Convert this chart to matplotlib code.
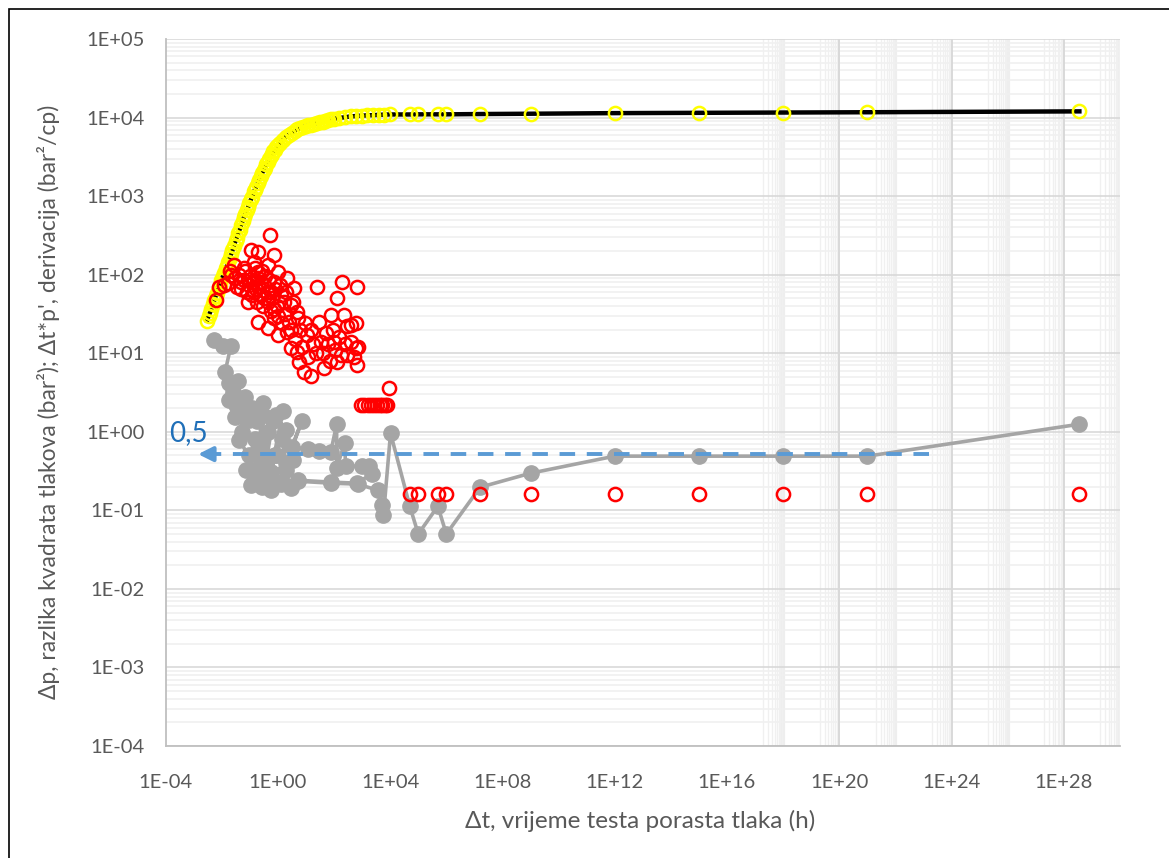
import numpy as np
import matplotlib.pyplot as plt
from matplotlib.ticker import FuncFormatter, LogLocator, NullLocator
from matplotlib.patches import Rectangle

# --- DATA ---
# pressure difference dp (bar^2) vs shut-in time dt (h)
dp_t = [0.0030, 0.0034, 0.0038, 0.0043, 0.0048, 0.0054, 0.0061, 0.0068, 0.0077, 0.0086,
        0.0097, 0.011, 0.012, 0.014, 0.015, 0.017, 0.019, 0.022, 0.024, 0.027,
        0.031, 0.034, 0.039, 0.043, 0.049, 0.055, 0.061, 0.069, 0.077, 0.087,
        0.097, 0.11, 0.12, 0.14, 0.15, 0.17, 0.19, 0.22, 0.24, 0.27,
        0.31, 0.34, 0.39, 0.43, 0.49, 0.55, 0.61, 0.69, 0.77, 0.87,
        0.97, 1.2, 1.5, 1.9, 2.4, 3.1, 3.9, 4.9, 6.1, 7.7,
        9.7, 12, 15, 19, 24, 31, 39, 49, 61, 77,
        97, 150, 240, 390, 610, 970, 1500, 2400, 3900, 6100,
        9700, 5e4, 1e5, 5e5, 1e6, 1.6e7, 1e9, 1e12, 1e15, 1e18,
        1e21, 3.6e28]
dp_val = [26, 30, 33, 37, 42, 47, 54, 59, 68, 74,
          85, 96, 105, 120, 129, 145, 162, 186, 204, 234,
          269, 295, 339, 372, 427, 479, 537, 589, 661, 724,
          813, 912, 977, 1150, 1200, 1320, 1450, 1620, 1780, 1950,
          2140, 2290, 2540, 2690, 2990, 3240, 3470, 3720, 3890, 4170,
          4420, 4790, 5250, 5620, 6030, 6460, 6760, 7080, 7330, 7590,
          7760, 7940, 8130, 8320, 8510, 8710, 8910, 9120, 9330, 9550,
          9660, 9890, 10100, 10350, 10470, 10590, 10670, 10740, 10840, 10910,
          10960, 10960, 11000, 11000, 11000, 11100, 11200, 11400, 11500, 11600,
          11700, 12000]

# derivative dt*p' (red open circles)
der_t = [6.2e-3, 8.1e-3, 1.2e-2, 1.6e-2, 2.1e-2, 2.7e-2, 4.8e-2, 6.1e-2, 8.3e-2, 0.109,
         0.139, 0.139, 0.188, 0.188, 0.188, 0.246, 0.315, 0.427, 0.427, 0.528,
         0.56, 0.715, 0.715, 0.715, 0.97, 0.97, 1.27, 2.19, 2.19, 2.87,
         2.87, 3.67, 4.97, 4.97, 5.5, 8.3, 11.2, 14.7, 25.5, 33.4,
         43.8, 75.7, 99, 124, 131, 197, 219, 297, 389, 585,
         673, 673,
         0.02, 0.03, 0.035, 0.04, 0.05, 0.06, 0.07, 0.08, 0.09, 0.1,
         0.12, 0.13, 0.15, 0.16, 0.18, 0.2, 0.22, 0.25, 0.28, 0.3,
         0.33, 0.36, 0.4, 0.45, 0.5, 0.55, 0.6, 0.7, 0.8, 0.9,
         1.0, 1.2, 1.4, 1.6, 1.8, 2.0, 2.5, 3.0, 3.5, 4.0,
         5.0, 6.0, 7.0, 9.0, 12, 15, 18, 22, 30, 40,
         50, 60, 70, 90, 110, 150, 180, 250, 300, 400,
         500, 600, 700,
         900, 1200, 1600, 2000, 2600, 3300, 4200, 5200, 6500, 8000,
         8900, 5e4, 1e5, 5e5, 1e6, 1.6e7, 1e9, 1e12, 1e15, 1e18,
         1e21, 3.6e28]
der_val = [47, 70, 73, 78, 98, 132, 81, 121, 45, 204,
           60, 145, 194, 108, 25, 81, 51, 132, 20.8, 317,
           60, 177, 81, 37, 108, 17, 55, 90, 18.7, 41,
           11.5, 67, 33.5, 10.4, 7.7, 5.8, 17, 5.2, 70, 13.9,
           6.4, 30.4, 13.9, 51, 7.7, 81, 30.4, 9.4, 22.7, 11.5,
           70, 7.0,
           110, 90, 70, 100, 65, 85, 110, 60, 75, 95,
           55, 80, 120, 65, 45, 90, 70, 55, 110, 40,
           75, 95, 60, 45, 85, 35, 50, 28, 65, 40,
           30, 75, 24, 45, 32, 60, 25, 20, 45, 15,
           28, 20, 12, 24, 9, 20, 13, 10, 25, 10,
           18, 13, 8, 20, 11, 16, 9.5, 13, 22, 14,
           9, 24, 12,
           2.18, 2.18, 2.2, 2.2, 2.2, 2.2, 2.2, 2.2, 2.2, 2.2,
           3.56, 0.16, 0.16, 0.16, 0.16, 0.16, 0.16, 0.16, 0.16, 0.16,
           0.16, 0.16]

# grey series (filled circles joined by line)
gr_t = [5.3e-3, 1.1e-2, 2.1e-2, 1.3e-2, 1.8e-2, 2.5e-2, 3.8e-2, 2.9e-2, 4.5e-2, 6.7e-2,
        0.118, 5.2e-2, 0.09, 0.178, 0.291, 0.21, 0.15, 0.438, 0.128, 0.25,
        0.316, 0.66, 0.268, 0.4,
        0.018, 0.032, 0.072, 0.041, 0.092, 0.164, 0.37, 0.84, 1.91, 2.87,
        0.072, 0.56, 0.109, 3.38, 1.91, 0.84, 0.291,
        1.49, 0.56, 0.8, 1.38, 2.0, 7.1,
        3.12, 11.5, 30, 76, 124, 124, 238, 258, 955, 1690,
        2170, 635, 76, 5.1, 1.27, 0.151, 1.27, 5.1, 76, 689,
        3540, 4910, 5780, 1.03e4, 5e4, 1e5, 5e5, 1e6, 1.6e7, 1e9,
        1e12, 1e15, 1e18, 1e21, 3.6e28]
gr_val = [14.6, 12.3, 12.3, 5.7, 4.2, 3.2, 4.4, 1.53, 2.2, 2.75,
          2.0, 0.99, 1.4, 1.36, 2.31, 0.64, 0.8, 0.99, 0.325, 0.45,
          0.49, 1.36, 0.197, 0.3,
          2.52, 2.18, 1.62, 0.78, 0.50, 0.78, 0.376, 0.50, 0.325, 0.191,
          0.325, 0.181, 0.21, 0.435, 1.05, 1.62, 1.62,
          1.83, 0.306, 0.5, 0.80, 0.4, 1.36,
          0.64, 0.60, 0.57, 0.55, 1.25, 0.344, 0.72, 0.365, 0.365, 0.365,
          0.289, 0.222, 0.229, 0.242, 0.229, 0.257, 0.216, 0.235, 0.222, 0.216,
          0.181, 0.116, 0.087, 0.96, 0.113, 0.050, 0.113, 0.050, 0.197, 0.297,
          0.49, 0.49, 0.49, 0.49, 1.25]

# dashed reference level with arrow
ref_level = 0.52
ref_t = [1.43e-3, 1.6e23]
ref_label = "0,5"

x_ticks = [1e-4, 1e0, 1e4, 1e8, 1e12, 1e16, 1e20, 1e24, 1e28]

TXT = "#595959"
FONT = ["Lato", "DejaVu Sans"]
plt.rcParams["font.family"] = FONT

fig = plt.figure(figsize=(11.69, 8.58), dpi=100)
ax = fig.add_axes([0.1417, 0.1305, 0.8163, 0.824])
ax.set_xscale("log")
ax.set_yscale("log")
ax.set_xlim(1e-4, 1e30)
ax.set_ylim(1e-4, 1e5)

# gridlines (Excel look)
ax.yaxis.set_major_locator(LogLocator(base=10, numticks=20))
ax.yaxis.set_minor_locator(LogLocator(base=10, subs=np.arange(2, 10), numticks=20))
ax.grid(True, which="major", axis="y", color="#d9d9d9", lw=1.2)
ax.grid(True, which="minor", axis="y", color="#f0f0f0", lw=1.2)
ax.set_xticks(x_ticks)
ax.xaxis.set_minor_locator(NullLocator())
for e in [20, 24, 28]:
    ax.axvline(10.0 ** e, color="#d9d9d9", lw=1.4, zorder=0.6)
for e in [18, 22, 26, 30]:
    ax.axvline(10.0 ** e, color="#eeeeee", lw=3, zorder=0.5)
for e in [17, 19, 21, 23, 25, 27, 29]:
    for m in range(2, 10):
        ax.axvline(m * 10.0 ** e, color="#f0f0f0", lw=1.0, zorder=0.5)
ax.set_axisbelow(True)

fmt = FuncFormatter(lambda v, p: "1E{:+03d}".format(int(round(np.log10(v)))))
ax.xaxis.set_major_formatter(fmt)
ax.yaxis.set_major_formatter(fmt)
ax.tick_params(axis="both", which="both", length=0, labelsize=14.5, colors=TXT)
ax.tick_params(axis="x", pad=20)
ax.tick_params(axis="y", pad=15)

for s in ["top", "right"]:
    ax.spines[s].set_visible(False)
for s in ["left", "bottom"]:
    ax.spines[s].set_color("#bfbfbf")
    ax.spines[s].set_linewidth(1.3)

# series
ax.plot(gr_t, gr_val, color="#a5a5a5", lw=2.6, marker="o", ms=11,
        mfc="#a5a5a5", mec="#a5a5a5", zorder=3)
ax.plot(dp_t, dp_val, color="black", lw=3.2, marker="o", ms=9.5,
        mfc="none", mec="#ffff00", mew=1.8, zorder=3)
ax.plot(der_t, der_val, ls="none", marker="o", ms=9.5,
        mfc="none", mec="#ff0000", mew=1.8, zorder=4)

# reference arrow
blue = "#5b9bd5"
ax.plot([ref_t[1], ref_t[0] * 3.0], [ref_level, ref_level], color=blue,
        lw=2.8, ls=(0, (4, 3)), zorder=5)
ax.annotate("", xy=(ref_t[0], ref_level), xytext=(ref_t[0] * 3.5, ref_level),
            arrowprops=dict(arrowstyle="-|>", color=blue, lw=2.8,
                            mutation_scale=22, shrinkA=0, shrinkB=0), zorder=5)
ax.text(ref_t[0] * 0.45, ref_level * 1.85, ref_label, color="#1f6fb8",
        fontsize=20, ha="center", va="center", zorder=6)

ax.set_xlabel("\u0394t, vrijeme testa porasta tlaka (h)", fontsize=17.5, color=TXT)
ax.set_ylabel("\u0394p, razlika kvadrata tlakova (bar\u00b2); \u0394t*p', derivacija (bar\u00b2/cp)",
              fontsize=16.5, color=TXT)
ax.xaxis.set_label_coords(0.497, -0.09)
ax.yaxis.set_label_coords(-0.111, 0.487)

# outer chart border
fig.patches.append(Rectangle((9 / 1169, -0.05), 1.2, 1 - 9 / 858 + 0.05,
                             transform=fig.transFigure, fill=False,
                             ec="black", lw=1.2))

fig.savefig("out.png", dpi=100)
